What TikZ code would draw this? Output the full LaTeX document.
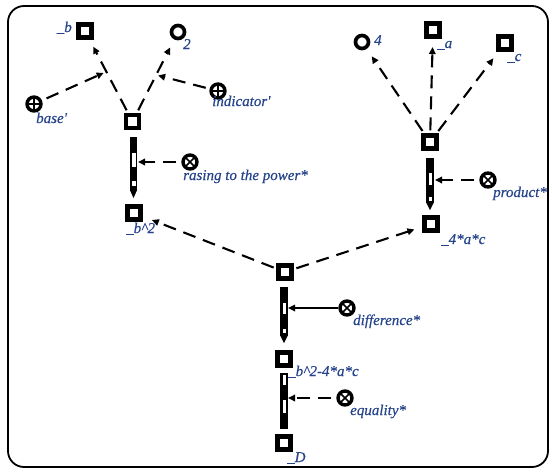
\documentclass[tikz,border=0pt]{standalone}
\usepackage{fontspec}
\setmainfont{Liberation Serif}
\newfontfamily\labfont[FakeBold=0.4]{Liberation Serif}
\usetikzlibrary{arrows.meta,calc}
\definecolor{labblue}{RGB}{38,68,140}
\tikzset{
  box/.style={draw, rectangle, line width=4.1pt, minimum size=13pt, inner sep=0pt, fill=white},
  cnode/.style={draw, circle, line width=3.7pt, minimum size=13pt, inner sep=0pt, fill=white},
  attrplus/.style={draw, circle, line width=3.4pt, minimum size=14pt, inner sep=0pt, fill=white,
    path picture={\draw[line width=1.5pt] (path picture bounding box.north) -- (path picture bounding box.south)
      (path picture bounding box.west) -- (path picture bounding box.east);}},
  attrtimes/.style={draw, circle, line width=3.4pt, minimum size=14pt, inner sep=0pt, fill=white,
    path picture={\draw[line width=1.5pt] (path picture bounding box.north west) -- (path picture bounding box.south east)
      (path picture bounding box.south west) -- (path picture bounding box.north east);}},
  dasharr/.style={line width=2.1pt, dash pattern=on 13pt off 8pt, -{Triangle[length=7pt,width=6.5pt]}},
  solidarr/.style={line width=1.6pt, -{Triangle[length=7pt,width=6.5pt]}},
  lab/.style={text=labblue, font=\labfont\itshape\fontsize{15}{17}\selectfont, inner sep=0pt},
}
\newcommand\mypencil[8]{%
  \fill[black] (#1-3.6,#2) rectangle (#1+3.6,#7);
  \fill[black] (#1-3.6,#7) -- (#1+3.6,#7) -- (#1,#8) -- cycle;
  \fill[white] (#1-1.5,#3) rectangle (#1+2,#4);
  \fill[white] (#1-1.5,#5) rectangle (#1+2,#6);
}
\begin{document}
\begin{tikzpicture}[x=1pt,y=-1pt]
\useasboundingbox (0,0) rectangle (552,472);
\fill[white] (0,0) rectangle (552,472);
\draw[line width=1.8pt, rounded corners=16pt] (8,6) rectangle (548,467);

% nodes
\node[box] (b) at (85,31) {};
\node[cnode] (two) at (178,32) {};
\node[box] (op1) at (132.5,121.5) {};
\node[attrplus] (base) at (34,104) {};
\node[attrplus] (ind) at (218,91) {};
\node[attrtimes] (rais) at (190,162) {};
\node[box] (bsq) at (134,213) {};

\node[cnode] (four) at (362,42) {};
\node[box] (a) at (433,30) {};
\node[box] (c) at (505,43) {};
\node[box] (op2) at (430,142) {};
\node[attrtimes] (prod) at (488,180) {};
\node[box] (fac) at (431,224) {};

\node[box] (op3) at (285,272) {};
\node[attrtimes] (diff) at (347,308) {};
\node[box] (disc) at (284,359) {};
\node[attrtimes] (eq) at (345,398) {};
\node[box] (D) at (284,443) {};

% pencils
\mypencil{133.5}{137}{153}{167}{181}{186}{190}{198}
\mypencil{430}{158}{173}{185}{197}{201}{203}{210}
\mypencil{284}{287}{303}{314}{329}{333}{336}{343}
% equality bar
\fill[black] (284-3.6,373) rectangle (284+3.6,429);
\fill[white] (284-1.5,375) rectangle (284+2,385);
\fill[white] (284-1.5,400) rectangle (284+2,413);

\coordinate (p1) at (138,162);
\coordinate (p2) at (435,180);
\coordinate (p3) at (288,308);
\coordinate (p4) at (288,398);

% connectors
\draw[dasharr, shorten <=3pt, shorten >=8pt] (op1) -- (b);
\draw[dasharr, shorten <=3pt, shorten >=9pt] (op1) -- (two);
\coordinate (m1) at ($(op1)!0.55!(b)$);
\coordinate (m2) at ($(op1)!0.52!(two)$);
\draw[dasharr, shorten <=5pt, shorten >=3pt] (base) -- (m1);
\draw[dasharr, shorten <=4pt, shorten >=2pt] (ind) -- (m2);
\draw[dasharr, shorten <=5pt] (rais) -- (p1);

\draw[dasharr, shorten <=3pt, shorten >=9pt] (op2) -- (four);
\draw[dasharr, shorten <=3pt, shorten >=8.5pt] (op2) -- (a);
\draw[dasharr, shorten <=3pt, shorten >=8.5pt] (op2) -- (c);
\draw[dasharr, shorten <=5pt] (prod) -- (p2);

\draw[dasharr, shorten <=3pt, shorten >=10pt] (op3) -- (bsq);
\draw[dasharr, shorten <=3pt, shorten >=8.5pt] (op3) -- (fac);
\draw[solidarr] (diff) -- (p3);
\draw[dasharr, shorten <=5pt] (eq) -- (p4);

% labels
\node[lab, anchor=base east] at (72,32) {\_b};
\node[lab, anchor=base west] at (183,49) {2};
\node[lab, anchor=base west] at (36,123) {base'};
\node[lab, anchor=base west] at (212,106) {indicator'};
\node[lab, anchor=base west] at (183,180) {rasing to the power*};
\node[lab, anchor=base west] at (126,233) {\_b\textasciicircum 2};
\node[lab, anchor=base west] at (374,45) {4};
\node[lab, anchor=base west] at (437,48) {\_a};
\node[lab, anchor=base west] at (507,61) {\_c};
\node[lab, anchor=base west] at (493,197) {product*};
\node[lab, anchor=base west] at (441,244) {\_4*a*c};
\node[lab, anchor=base west] at (353,325) {difference*};
\node[lab, anchor=base west] at (288,376) {\_b\textasciicircum 2-4*a*c};
\node[lab, anchor=base west] at (350,415) {equality*};
\node[lab, anchor=base west] at (287,462) {\_D};
\end{tikzpicture}
\end{document}
